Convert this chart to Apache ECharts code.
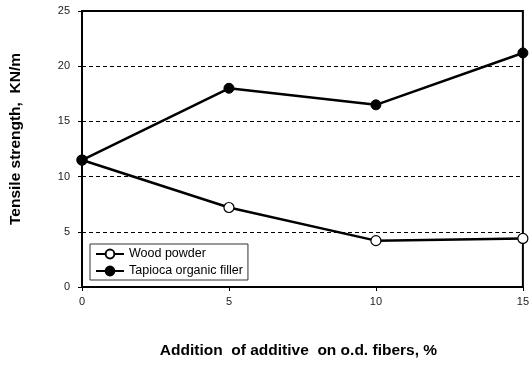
<!DOCTYPE html>
<html><head><meta charset="utf-8">
<script src="https://cdn.jsdelivr.net/npm/echarts@6/dist/echarts.min.js"></script>
<style>html,body{margin:0;padding:0;background:#fff}#c{width:532px;height:371px}</style>
</head><body><div id="c"></div>
<script>
const xValues = [0, 5, 10, 15];
const woodPowder = [11.5, 7.2, 4.2, 4.4];
const tapioca = [11.5, 18.0, 16.5, 21.2];
const yTicks = [0, 5, 10, 15, 20, 25];
const xTitle = 'Addition  of additive  on o.d. fibers, %';
const yTitle = 'Tensile strength,  KN/m';

const font = '"Liberation Sans", Arial, sans-serif';
const chart = echarts.init(document.getElementById('c'));
chart.setOption({
  animation: false,
  backgroundColor: '#fff',
  grid: {left: 81, right: 6, top: 11, bottom: 84, show: true, borderColor: '#000', borderWidth: 2, backgroundColor: 'transparent'},
  legend: {
    left: 90, top: 244, orient: 'vertical', itemWidth: 28, itemHeight: 11, itemGap: 3,
    borderColor: '#333', borderWidth: 1, padding: [3, 5, 2, 5],
    textStyle: {fontFamily: font, fontSize: 12.5, color: '#000', lineHeight: 14},
    data: ['Wood powder', 'Tapioca organic filler']
  },
  xAxis: {
    type: 'value', min: 0, max: 15, interval: 5,
    name: xTitle, nameLocation: 'middle', nameGap: 56,
    nameTextStyle: {fontFamily: font, fontSize: 15.5, fontWeight: 'bold', color: '#000', padding: [0, 8, 0, 0]},
    axisLine: {lineStyle: {color: '#000', width: 2}},
    axisTick: {show: true, length: 4, lineStyle: {color: '#000'}},
    axisLabel: {fontFamily: font, fontSize: 11, color: '#222', margin: 9},
    splitLine: {show: false}
  },
  yAxis: {
    type: 'value', min: 0, max: 25, interval: 5,
    name: yTitle, nameLocation: 'middle', nameGap: 58,
    nameTextStyle: {fontFamily: font, fontSize: 15.5, fontWeight: 'bold', color: '#000', padding: [0, 0, 0, 20]},
    axisLine: {show: true, lineStyle: {color: '#000', width: 2}},
    axisTick: {show: true, length: 4, lineStyle: {color: '#000'}},
    axisLabel: {fontFamily: font, fontSize: 11, color: '#222', margin: 12},
    splitLine: {show: true, lineStyle: {color: '#000', type: [4, 3], width: 1}}
  },
  series: [
    {name: 'Wood powder', type: 'line', data: xValues.map((x, i) => [x, woodPowder[i]]),
     symbol: 'circle', symbolSize: 10, lineStyle: {color: '#000', width: 2.5},
     itemStyle: {color: '#fff', borderColor: '#000', borderWidth: 1.2}},
    {name: 'Tapioca organic filler', type: 'line', data: xValues.map((x, i) => [x, tapioca[i]]),
     symbol: 'circle', symbolSize: 10, lineStyle: {color: '#000', width: 2.5},
     itemStyle: {color: '#000', borderColor: '#000', borderWidth: 1}}
  ]
});
</script></body></html>
